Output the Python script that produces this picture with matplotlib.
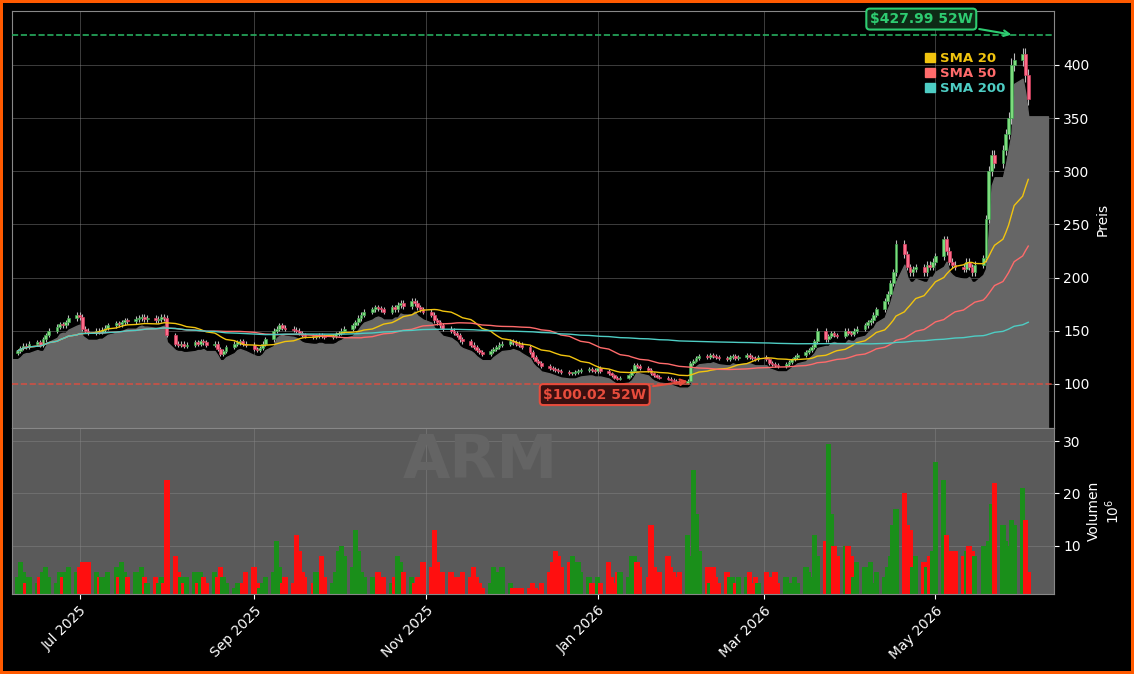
import numpy as np
import pandas as pd
import matplotlib
matplotlib.use('Agg')
import matplotlib.pyplot as plt
import matplotlib.dates as mdates
from matplotlib.patches import Patch

ticker = 'ARM'

# daily closes, Jun 2025 .. Jun 2026
closes = (
    [131,134,136,135,138,139,137,142,146,150,154,156,155,158,162,165] +
    [163,152,150,148,150,149,151,153,155,157,156,158,160,159,161,162,163,161,162,160,161,163,162] +
    [146,138,137,138,136,137,139,138,140,139,137,138,133,128,131,135,138,139,140,138,137] +
    [133,132,134,138,142,150,152,155,153,152,151,150,148,146,145,144,145,146,145,144,145,147] +
    [148,150,152,155,158,162,165,168,170,172,171,170,168,172,170,174,176,173,178,176,172,170,168] +
    [165,160,158,155,152,150,148,146,142,140,137,135,132,130,128,131,133,135,137,138] +
    [140,139,138,137,135,130,125,122,120,117,115,114,113,112,111,110,110,111,112,113,114,113,112] +
    [115,112,110,108,106,105,106,108,112,118,117,115,113,110,108,107,106,105,104,103,102,101] +
    [103,120,122,124,126,125,127,126,125,124,123,125,126,124,125,127,125,124,123,125] +
    [123,120,119,118,117,119,121,123,125,127,130,132,135,140,150,142,145,148,146,145,150,148] +
    [147,150,152,155,158,160,165,170,178,185,195,205,232,222,210,205,208,210,205,212,210,215] +
    [220,236,225,215,212,210,208,215,210,205,212,218,255,300,315,308,320,335,350,400,405] +
    [410,390,368]
)

# volume in millions
volumes = (
    [4,7,5,3,4,3,4,5,6,4,3,5,4,5,6,5] +
    [6,7,5,7,5,4,4,4,5,6,4,7,5,4,5,5,6,4,3,4,3,4,3] +
    [22.5,8,5,4,3,4,5,3,5,4,3,5,4,6,4,3,2,3,2,3,5] +
    [6,3,2,3,4,5,11,6,3,4,3,12,9,5,4,3,5,4,8,4,3,5] +
    [9,10,8,6,13,9,5,4,4,3,5,3,4,3,4,8,7,5,4,3,4,3,7] +
    [6,13,7,4,5,5,4,3,4,5,4,6,4,3,2,3,6,5,4,6] +
    [3,2,2,2,2,2,3,2,1.5,3,5,7,9,8,6,7,8,7,7,5,4,3,3] +
    [4,3,7,4,3,5,5,4,8,8,7,6,4,14,6,4,5,8,6,5,4,5] +
    [12,8,24.5,16,9,6,3,6,4,3,5,4,4,3,4,4,5,3,4,3] +
    [5,4,3,5,3,4,2,3,4,3,6,5,4,12,8,11,29.5,16,10,8,10,10] +
    [8,4,7,6,5,7,3,5,4,6,8,14,17,20,14,13,6,8,7,6,8,9] +
    [26,22.5,12,9,8,9,8,9,10,9,8,10,9,11,18,22,14,11,10,15,14] +
    [21,15,5]
)

high_52w = 427.99
low_52w = 100.02

n = min(len(closes), len(volumes))
df = pd.DataFrame({'close': closes[:n], 'vol': volumes[:n]},
                  index=pd.bdate_range('2025-06-09', periods=n))
df['open'] = df['close'].shift(1).fillna(df['close'].iloc[0] - 2)
top = df[['open', 'close']].max(axis=1)
bot = df[['open', 'close']].min(axis=1)
df['high'] = top * 1.015
df['low'] = bot * 0.985
df['sma20'] = df['close'].rolling(20, min_periods=1).mean()
df['sma50'] = df['close'].rolling(50, min_periods=1).mean()
df['sma200'] = df['close'].rolling(200, min_periods=1).mean()
up = df['close'] >= df['open']

fig = plt.figure(figsize=(11.34, 6.74), dpi=100, facecolor='black')
fig.patch.set_edgecolor('#ff5a00')
fig.patch.set_linewidth(4)
ax = fig.add_axes([0.0106, 0.365, 0.9185, 0.619], facecolor='black')
axv = fig.add_axes([0.0106, 0.119, 0.9185, 0.246], facecolor='#5a5a5a', sharex=ax)

x = mdates.date2num(df.index)
ymin = 58.6
# grey area under the candles, extended to both edges
fx = np.concatenate([[x[0] - 3], x, [x[-1] + 7]])
lo = (df['low'] * 0.97).values
fy = np.concatenate([[lo[0]], lo, [lo[-1]]])
ax.fill_between(fx, fy, ymin, color='#666666', zorder=1)

ax.vlines(x, df['low'], df['high'], color='#bbbbbb', lw=0.8, zorder=2)
ax.bar(x[up], (top - bot)[up].clip(lower=0.8), bottom=bot[up], width=1.0,
       color='#7ddc7d', edgecolor='#3f9f4f', lw=0.5, zorder=3)
ax.bar(x[~up], (top - bot)[~up].clip(lower=0.8), bottom=bot[~up], width=1.0,
       color='#ff6b8a', edgecolor='#d0405e', lw=0.5, zorder=3)

ax.plot(x, df['sma20'], color='#f1c40f', lw=1, zorder=4)
ax.plot(x, df['sma50'], color='#ff6b6b', lw=1, zorder=4)
ax.plot(x, df['sma200'], color='#4ecdc4', lw=1, zorder=4)

ax.axhline(high_52w, color='#27ae60', ls='--', lw=1.2, zorder=4)
ax.axhline(low_52w, color='#e74c3c', ls='--', lw=1.2, alpha=0.8, zorder=4)
ihi = int(np.argmax(df['high'].values))
ilo = int(np.argmin(df['low'].values))
ax.annotate(f'${high_52w:.2f} 52W', xy=(x[ihi] - 3, high_52w), xytext=(x[ihi] - 36, 443),
            color='#2ecc71', fontsize=10, fontweight='bold', ha='center', va='center',
            bbox=dict(boxstyle='round,pad=0.25', fc='#0e2a16', ec='#2ecc71', lw=1.5),
            arrowprops=dict(arrowstyle='->', color='#2ecc71', lw=1.5), zorder=6)
ax.annotate(f'${low_52w:.2f} 52W', xy=(x[ilo] + 4, low_52w + 3), xytext=(x[ilo] - 30, 90),
            color='#e74c3c', fontsize=10, fontweight='bold', ha='center', va='center',
            bbox=dict(boxstyle='round,pad=0.25', fc='#3a1010', ec='#e74c3c', lw=1.5),
            arrowprops=dict(arrowstyle='->', color='#e74c3c', lw=1.5), zorder=6)

handles = [Patch(color='#f1c40f', label='SMA 20'), Patch(color='#ff6b6b', label='SMA 50'),
           Patch(color='#4ecdc4', label='SMA 200')]
leg = ax.legend(handles=handles, loc='upper right', bbox_to_anchor=(0.965, 0.93), frameon=False,
                handlelength=0.7, handleheight=0.7, handletextpad=0.4, labelspacing=0.15,
                prop={'weight': 'bold', 'size': 9.5})
for t, h in zip(leg.get_texts(), handles):
    t.set_color(h.get_facecolor())

ax.set_ylim(ymin, 450.8)
ax.set_yticks([100, 150, 200, 250, 300, 350, 400])
ax.set_xlim(mdates.datestr2num('2025-06-07'), mdates.datestr2num('2026-06-12'))

vcol = np.where(up, '#1a8f1a', '#ff0f0f')
axv.bar(x, df['vol'], width=1.9, color=vcol, zorder=2)
axv.set_ylim(0.86, 32.5)
axv.text(0.45, 0.8, ticker, transform=axv.transAxes, fontsize=44, fontweight='bold',
         color='#646464', ha='center', va='center', zorder=1)

for a in (ax, axv):
    a.yaxis.tick_right()
    a.yaxis.set_label_position('right')
    a.grid(True, color='#888888', alpha=0.45, lw=0.7)
    a.set_axisbelow(True)
    a.tick_params(colors='white', labelsize=10)
    for s in a.spines.values():
        s.set_color('#888888')
ax.set_ylabel('Preis', color='white', fontsize=10)
axv.set_ylabel('Volumen\n$10^6$', color='white', fontsize=10)
axv.set_yticks([10, 20, 30])
ax.tick_params(labelbottom=False)
axv.xaxis.set_major_locator(mdates.MonthLocator(bymonth=[1, 3, 5, 7, 9, 11]))
axv.xaxis.set_major_formatter(mdates.DateFormatter('%b %Y'))
plt.setp(axv.get_xticklabels(), rotation=45, ha='right', rotation_mode='anchor')

fig.savefig('out.png', dpi=100, facecolor=fig.get_facecolor(), edgecolor=fig.get_edgecolor())
